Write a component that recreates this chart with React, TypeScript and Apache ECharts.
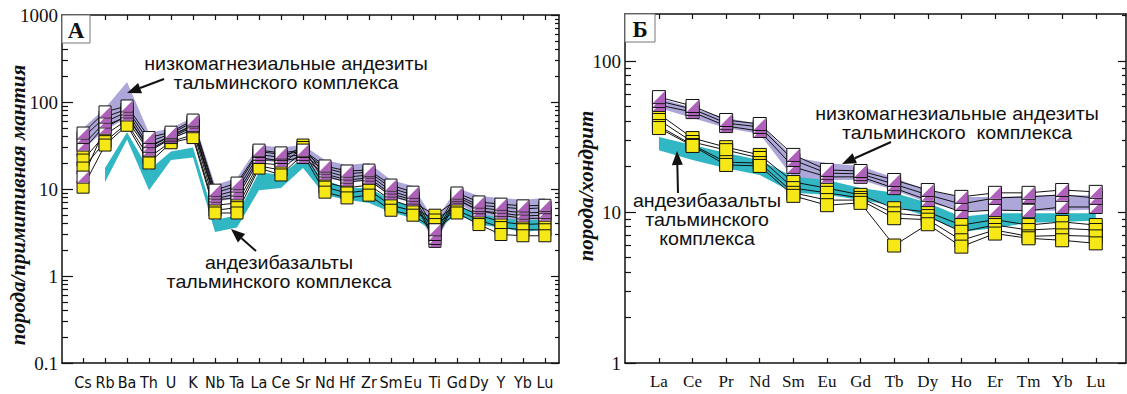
import React, { useEffect, useRef } from 'react';
import * as echarts from 'echarts';

// ---------- categories ----------
const catsA = ['Cs','Rb','Ba','Th','U','K','Nb','Ta','La','Ce','Sr','Nd','Hf','Zr','Sm','Eu','Ti','Gd','Dy','Y','Yb','Lu'];
const catsB = ['La','Ce','Pr','Nd','Sm','Eu','Gd','Tb','Dy','Ho','Er','Tm','Yb','Lu'];

// ---------- panel A (primitive mantle normalised) ----------
// low-Mg andesites
const andA1 = [44, 77, 90, 39, 45, 62, 9.7, 11.7, 28, 26, 28, 18.4, 16.1, 16.5, 11.1, 9.2, 3.4, 9.0, 7.1, 6.7, 6.4, 6.5];
const andA2 = [39, 67, 83, 35, 43, 59, 9.0, 10.8, 27, 25, 27, 17.4, 14.9, 15.7, 10.3, 8.5, 3.0, 8.5, 6.5, 6.2, 5.9, 6.1];
const andA3 = [32, 59, 77, 31, 41, 54, 8.3, 9.7, 25, 23, 25, 16.1, 13.7, 14.5, 9.5, 7.9, 2.7, 8.1, 6.1, 5.7, 5.3, 5.4];
const andA4 = [13.7, 50, 71, 28, 39, 52, 7.7, 8.8, 23, 21, 23, 14.9, 12.7, 13.4, 8.8, 7.5, 2.5, 7.7, 5.6, 5.3, 4.9, 5.0];
// andesibasalts
const basA1 = [28, 54, 67, 30, 41, 54, 7.5, 7.9, 21.5, 21.5, 32, 14.1, 12.0, 12.7, 8.3, 7.1, 5.0, 7.5, 5.7, 5.0, 4.6, 4.6];
const basA2 = [21.5, 42, 62, 27, 38, 48, 6.5, 6.9, 19.9, 18.9, 30, 12.0, 10.3, 11.1, 7.5, 6.2, 4.4, 6.5, 5.0, 4.2, 3.9, 4.0];
const basA3 = [17.4, 35, 57, 23, 35, 42, 5.7, 6.1, 18.4, 16.5, 27, 10.5, 9.0, 9.7, 6.5, 5.6, 3.9, 5.7, 4.4, 3.6, 3.4, 3.4];
const basA4 = [10.5, 32, 54, 19.9, 34, 39, 5.3, 5.3, 17.4, 14.5, 25, 9.2, 7.9, 8.5, 5.7, 5.0, 3.4, 5.3, 3.9, 3.0, 2.9, 2.9];
// reference fields
const lavUpA = [50, 85, 170, 44, 50, 67, 11.1, 13.4, 32, 30, 32, 21.5, 18.9, 19.9, 12.7, 10.8, 4.2, 10.3, 8.3, 7.9, 7.5, 7.9];
const lavLoA = [28, 48, 65, 27, 37, 48, 7.1, 7.9, 21.5, 19.9, 21.5, 13.4, 12.0, 12.7, 8.1, 6.9, 2.3, 6.9, 5.0, 4.6, 4.0, 4.2];
const cyanUpA = [null, 17.4, 45, 16.5, 27, 30, 4.4, 5.0, 15.7, 14.5, 23, 12.7, 10.3, 10.3, 7.5, 6.2, 4.2, 6.5, 5.2, 4.6, 4.4, 4.4];
const cyanLoA = [null, 12.0, 37, 9.7, 21.5, 23, 3.2, 3.6, 9.7, 10.3, 17.4, 8.5, 7.5, 6.9, 5.4, 4.6, 3.2, 5.2, 3.9, 3.6, 3.2, 3.4];

// ---------- panel Б (chondrite normalised) ----------
const andB1 = [57.7, 50.4, 40.7, 38.3, 23.9, 19.0, 18.7, 16.3, 14.0, 12.6, 13.4, 13.4, 14.0, 13.6];
const andB2 = [54.4, 48.1, 38.8, 36.6, 22.1, 18.1, 17.9, 15.3, 13.0, 11.3, 12.4, 12.6, 13.0, 12.4];
const andB3 = [51.2, 45.9, 37.1, 34.4, 19.9, 17.1, 17.1, 14.4, 12.0, 10.0, 10.3, 10.2, 10.8, 10.8];
const basB1 = [44.6, 30.9, 26.9, 23.9, 15.8, 14.4, 13.0, 10.6, 10.0, 8.2, 8.9, 8.2, 8.6, 8.2];
const basB2 = [40.7, 29.1, 25.7, 22.8, 14.4, 13.4, 12.4, 9.8, 9.4, 7.4, 8.2, 7.6, 7.8, 7.6];
const basB3 = [37.1, 27.8, 21.4, 21.1, 13.4, 12.0, 12.0, 9.1, 8.9, 6.5, 7.6, 6.9, 7.0, 6.9];
const basB4 = [36.0, 27.4, 20.5, 20.2, 12.8, 11.1, 11.5, 6.0, 8.3, 5.9, 7.2, 6.7, 6.5, 6.2];
const lavUpB = [56.9, 48.9, 42.0, 38.3, 23.1, 21.1, 20.2, 16.8, 14.0, 12.6, 12.6, 12.8, 13.0, 12.8];
const lavLoB = [48.9, 42.0, 36.0, 32.9, 16.8, 16.3, 16.3, 14.0, 11.5, 10.2, 10.2, 10.2, 10.2, 10.4];
const cyanUpB = [31.4, 27.8, 24.6, 22.1, 17.1, 16.3, 14.4, 13.4, 11.5, 9.3, 9.8, 9.8, 9.8, 9.8];
const cyanLoB = [25.7, 22.1, 19.5, 17.6, 13.4, 13.0, 12.0, 11.0, 9.3, 7.4, 7.8, 8.5, 8.6, 8.8];

// ---------- tick values ----------
const majTicksA = [0.1, 1, 10, 100, 1000];
const minTicksA = [0.2,0.3,0.4,0.5,0.6,0.7,0.8,0.9, 2,3,4,5,6,7,8,9, 20,30,40,50,60,70,80,90, 200,300,400,500,600,700,800,900];
const majTicksB = [1, 10, 100];
const minTicksB = [2,3,4,5,6,7,8,9, 20,30,40,50,60,70,80,90, 200];

const YELLOW = '#f6e817';
const PURPLE = '#9a38aa';
const LAV = '#aca7d8';
const CYAN = '#31b6c4';
const INK = '#111';
const TRI = 'path://M10,0 L10,10 L0,10 Z';
const SERIF = '"Liberation Serif", "Times New Roman", serif';
const SANS = '"Liberation Sans", Arial, sans-serif';

const idxA = catsA.map((_, i) => i);
const idxB = catsB.map((_, i) => i);
const fmtNum = (v: number) => (v < 1 ? v.toFixed(1) : String(Math.round(v)));

function band(xi: number, yi: number, upper: (number | null)[], lower: (number | null)[], color: string) {
  return {
    type: 'custom',
    xAxisIndex: xi,
    yAxisIndex: yi,
    z: 1,
    silent: true,
    clip: true,
    data: [[0, 10]],
    renderItem: (_p: any, api: any) => {
      const top: number[][] = [];
      const bot: number[][] = [];
      upper.forEach((v, i) => { if (v != null) top.push(api.coord([i, v])); });
      lower.forEach((v, i) => { if (v != null) bot.push(api.coord([i, v])); });
      return { type: 'polygon', shape: { points: top.concat(bot.reverse()) }, style: { fill: color } };
    },
  };
}

function sample(xi: number, yi: number, vals: number[], kind: 'and' | 'bas', size: number) {
  const pts = vals.map((v, i) => [i, v]);
  const out: any[] = [{
    type: 'line',
    xAxisIndex: xi,
    yAxisIndex: yi,
    data: pts,
    symbol: 'rect',
    symbolSize: size,
    showAllSymbol: true,
    lineStyle: { color: INK, width: 1 },
    itemStyle: { color: kind === 'bas' ? YELLOW : '#ffffff', borderColor: INK, borderWidth: 1 },
    emphasis: { disabled: true },
    silent: true,
    z: 2,
  }];
  if (kind === 'and') {
    out.push({
      type: 'scatter',
      xAxisIndex: xi,
      yAxisIndex: yi,
      data: pts,
      symbol: TRI,
      symbolSize: size - 1,
      itemStyle: { color: PURPLE },
      emphasis: { disabled: true },
      silent: true,
      z: 2,
    });
  }
  return out;
}

function arrow(x1: number, y1: number, x2: number, y2: number, hl = 14, hw = 5.5) {
  const dx = x2 - x1, dy = y2 - y1, L = Math.hypot(dx, dy);
  const ux = dx / L, uy = dy / L;
  const bx = x2 - ux * hl, by = y2 - uy * hl;
  const nx = -uy, ny = ux;
  return [
    { type: 'line', z: 100, shape: { x1, y1, x2: bx, y2: by }, style: { stroke: INK, lineWidth: 2 } },
    { type: 'polygon', z: 100, shape: { points: [[x2, y2], [bx + nx * hw, by + ny * hw], [bx - nx * hw, by - ny * hw]] }, style: { fill: INK } },
  ];
}

function txt(text: string, x: number, y: number, opts: any = {}) {
  const { rotation = 0, scaleX = 1, ...style } = opts;
  return {
    type: 'text', z: 100, x, y, rotation, scaleX,
    style: {
      text, fill: INK, textAlign: 'center', textVerticalAlign: 'middle',
      fontFamily: SANS, fontSize: 18, lineHeight: 19,
      ...style,
    },
  };
}
const ann = { scaleX: 1.09 };
function panelBox(x: number, y: number, w: number, h: number, label: string) {
  return [
    { type: 'rect', z: 99, shape: { x, y, width: w, height: h }, style: { fill: '#fff', stroke: '#777', lineWidth: 1 } },
    txt(label, x + w / 2, y + h / 2 + 1, { fontFamily: SERIF, fontWeight: 'bold', fontSize: 23, lineHeight: 24 }),
  ];
}

function xAxes(grid: number, min: number, max: number, idx: number[], cats: string[], labelFont: string, fontSize: number, margin: number) {
  const line = { onZero: false, lineStyle: { color: INK, width: 1.5 } };
  return [
    {
      gridIndex: grid, type: 'value', min, max, position: 'bottom',
      axisLine: line,
      axisTick: { inside: true, length: 5, customValues: idx, lineStyle: { color: INK, width: 1.2 } },
      axisLabel: { customValues: idx, formatter: (v: number) => cats[Math.round(v)], color: INK, fontFamily: labelFont, fontSize, margin },
      splitLine: { show: false },
    },
    {
      gridIndex: grid, type: 'value', min, max, position: 'top',
      axisLine: line,
      axisTick: { inside: true, length: 5, customValues: idx, lineStyle: { color: INK, width: 1.2 } },
      axisLabel: { show: false },
      splitLine: { show: false },
    },
  ];
}

function yAxes(grid: number, min: number, max: number, maj: number[], minr: number[]) {
  const base = { gridIndex: grid, type: 'log', logBase: 10, min, max, splitLine: { show: false } };
  const tickStyle = { color: INK, width: 1.2 };
  return [
    {
      ...base, position: 'left',
      axisLine: { show: true, onZero: false, lineStyle: { color: INK, width: 1.5 } },
      axisTick: { inside: true, length: 11, customValues: maj, lineStyle: tickStyle },
      axisLabel: { customValues: maj, formatter: fmtNum, color: INK, fontFamily: SERIF, fontSize: 19, margin: 4 },
    },
    {
      ...base, position: 'left',
      axisLine: { show: false, onZero: false },
      axisTick: { inside: true, length: 6, customValues: minr, lineStyle: tickStyle },
      axisLabel: { show: false },
    },
    {
      ...base, position: 'right',
      axisLine: { show: true, onZero: false, lineStyle: { color: INK, width: 1.5 } },
      axisTick: { inside: true, length: 8, customValues: maj, lineStyle: tickStyle },
      axisLabel: { show: false },
    },
    {
      ...base, position: 'right',
      axisLine: { show: false, onZero: false },
      axisTick: { inside: true, length: 4, customValues: minr, lineStyle: tickStyle },
      axisLabel: { show: false },
    },
  ];
}

export default function App() {
  const ref = useRef<HTMLDivElement>(null);
  useEffect(() => {
    if (!ref.current) return;
    const chart = echarts.init(ref.current, undefined, { renderer: 'svg' });

    const series: any[] = [
      band(0, 0, lavUpA, lavLoA, LAV),
      band(0, 0, cyanUpA, cyanLoA, CYAN),
      band(2, 4, lavUpB, lavLoB, LAV),
      band(2, 4, cyanUpB, cyanLoB, CYAN),
      ...[basA1, basA2, basA3, basA4].flatMap(d => sample(0, 0, d, 'bas', 12)),
      ...[andA4, andA3, andA2, andA1].flatMap(d => sample(0, 0, d, 'and', 12)),
      ...[basB1, basB2, basB3, basB4].flatMap(d => sample(2, 4, d, 'bas', 13)),
      ...[andB3, andB2, andB1].flatMap(d => sample(2, 4, d, 'and', 13)),
    ];

    const yName = { fontFamily: SERIF, fontStyle: 'italic', fontWeight: 'bold', fontSize: 21, lineHeight: 22, rotation: Math.PI / 2 };
    const graphic: any[] = [
      txt('порода/примитивная мантия', 18, 205, yName),
      txt('порода/хондрит', 586, 186, yName),
      ...panelBox(62, 15, 28, 28, 'A'),
      ...panelBox(625, 14, 30, 28, 'Б'),
      txt('низкомагнезиальные андезиты\nтальминского комплекса', 286, 73, ann),
      ...arrow(164, 79, 127, 93),
      txt('андезибазальты\nтальминского комплекса', 279, 272, ann),
      ...arrow(256, 251, 231, 229),
      txt('низкомагнезиальные андезиты\nтальминского  комплекса', 957, 123, ann),
      ...arrow(891, 142, 842, 164),
      txt('андезибазальты\nтальминского\nкомплекса', 707, 220, ann),
      ...arrow(678, 193, 677, 151),
    ];

    chart.setOption({
      animation: false,
      backgroundColor: '#ffffff',
      textStyle: { fontFamily: SANS },
      grid: [
        { left: 62, top: 15, width: 497, height: 348, containLabel: false, outerBoundsMode: 'none' },
        { left: 625, top: 14, width: 501, height: 349, containLabel: false, outerBoundsMode: 'none' },
      ],
      xAxis: [
        ...xAxes(0, -0.957, 21.64, idxA, catsA, '"Liberation Sans Narrow", "DejaVu Sans Condensed", "Arial Narrow", sans-serif', 16, 11),
        ...xAxes(1, -1.01, 13.9, idxB, catsB, SERIF, 17, 10),
      ],
      yAxis: [
        ...yAxes(0, 0.1, 1000, majTicksA, minTicksA),
        ...yAxes(1, 1, 205, majTicksB, minTicksB),
      ],
      series,
      graphic,
    });
    return () => chart.dispose();
  }, []);
  return <div ref={ref} style={{ position: 'fixed', left: 0, top: 0, width: 1127, height: 394, background: '#fff' }} />;
}
